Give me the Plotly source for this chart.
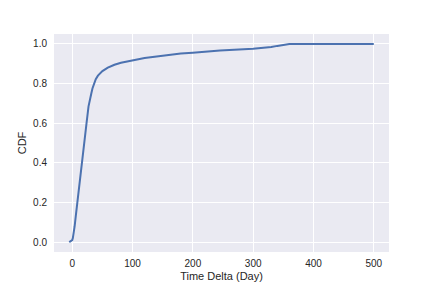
import plotly.graph_objects as go

# Data
time_delta = [-5, -1, 0, 1, 2, 4, 6, 8.3, 12, 16, 20, 23.7, 27, 29, 31.6, 33.5, 36, 39, 42.6,
              46, 50, 59, 70, 80.8, 100, 120, 140, 160, 180, 200, 245, 300, 320, 330, 340,
              350, 356, 360, 400, 450, 500]
cdf = [0.0, 0.005, 0.01, 0.02, 0.035, 0.08, 0.135, 0.2, 0.3, 0.4, 0.5, 0.6, 0.685, 0.72,
       0.75, 0.775, 0.8, 0.822, 0.84, 0.852, 0.863, 0.88, 0.895, 0.905, 0.918, 0.929,
       0.937, 0.945, 0.951, 0.956, 0.967, 0.976, 0.981, 0.984, 0.99, 0.996, 0.999, 1.0,
       1.0, 1.0, 1.0]
x_ticks = [0, 100, 200, 300, 400, 500]
y_ticks = [0.0, 0.2, 0.4, 0.6, 0.8, 1.0]

fig = go.Figure()
fig.add_trace(go.Scatter(x=time_delta, y=cdf, mode="lines",
                         line=dict(color="#4C72B0", width=2), showlegend=False))

font_family = "Liberation Sans, Arial, sans-serif"
fig.update_layout(
    width=432, height=288,
    margin=dict(l=54, r=43, t=34, b=36),
    paper_bgcolor="white",
    plot_bgcolor="#EAEAF2",
    font=dict(family=font_family, size=10, color="#262626"),
    xaxis=dict(range=[-30.25, 525.25], tickvals=x_ticks, ticktext=[str(v) for v in x_ticks],
               showgrid=True, gridcolor="white", gridwidth=1, zeroline=False, automargin=False,
               showline=False, ticks="", ticklabelstandoff=4,
               title=dict(text="Time Delta (Day)", font=dict(size=11), standoff=4)),
    yaxis=dict(range=[-0.05, 1.05], tickvals=y_ticks, ticktext=[f"{v:.1f}" for v in y_ticks],
               showgrid=True, gridcolor="white", gridwidth=1, zeroline=False, automargin=False,
               showline=False, ticks="", ticklabelstandoff=6,
               title=dict(text="CDF", font=dict(size=11), standoff=4)),
)

fig.write_html("out.html")
